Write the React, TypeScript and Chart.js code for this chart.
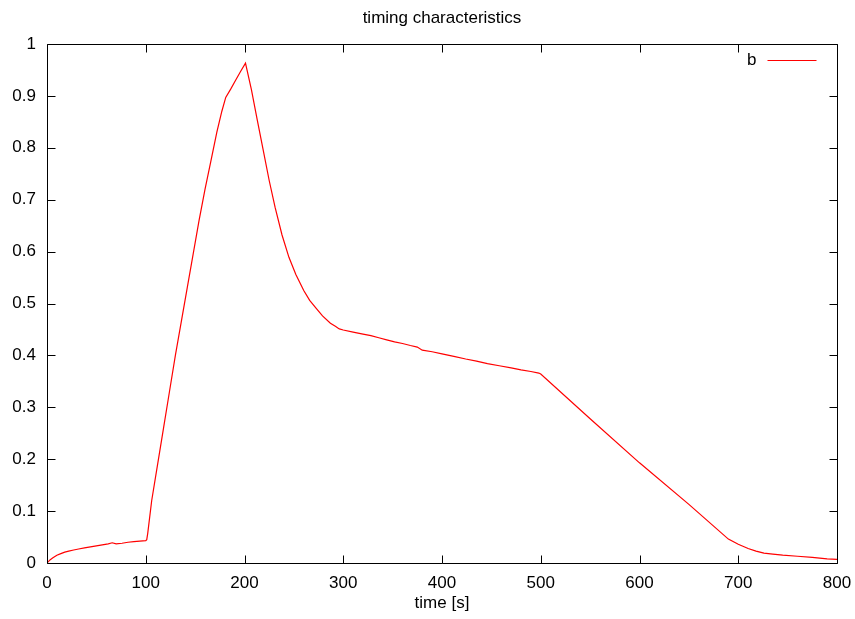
import React, { useEffect, useRef } from "react";
import { Chart, registerables } from "chart.js";

Chart.register(...registerables);

const chartTitle = "timing characteristics";
const xAxisTitle = "time [s]";
const seriesLabel = "b";

const timeValues = [
  0, 3, 6, 10, 14, 18, 22, 27, 32, 38, 44, 50, 56, 62, 66, 70, 76, 82, 88, 94, 100,
  101, 102, 106, 112, 118, 124, 130, 136, 142, 148, 154, 160, 166, 172, 177, 181, 186,
  191, 196, 201, 207, 213, 219, 225, 231, 238, 245, 252, 260, 266, 272,
  279, 287, 292, 296, 300, 310, 320, 328, 336, 344, 352, 360, 368, 375, 380, 390,
  400, 412, 424, 435, 446, 458, 470, 480, 490, 498, 500, 550, 600, 650, 690, 700, 710,
  718, 726, 735, 745, 760, 775, 790, 800,
];

const bValues = [
  0, 0.006, 0.01, 0.015, 0.018, 0.021, 0.023, 0.025, 0.027, 0.029, 0.031, 0.033, 0.035,
  0.037, 0.039, 0.037, 0.038, 0.04, 0.041, 0.042, 0.043,
  0.045, 0.057, 0.12, 0.19, 0.26, 0.33, 0.4, 0.465, 0.53, 0.595, 0.66, 0.72, 0.775,
  0.83, 0.87, 0.897, 0.913,
  0.93, 0.947, 0.963, 0.912, 0.853, 0.795, 0.737, 0.685, 0.632, 0.589, 0.556, 0.525, 0.506, 0.492,
  0.476, 0.462, 0.456, 0.451, 0.449, 0.445, 0.441, 0.438, 0.434, 0.43, 0.426,
  0.423, 0.419, 0.416, 0.41, 0.407,
  0.403, 0.398, 0.393, 0.389, 0.384, 0.38, 0.376, 0.372, 0.369, 0.366, 0.364, 0.278,
  0.193, 0.113, 0.046, 0.036, 0.028,
  0.023, 0.019, 0.017, 0.015, 0.013, 0.011, 0.008, 0.007,
];

const xMin = 0;
const xMax = 800;
const xStep = 100;
const yMin = 0;
const yMax = 1;
const yStep = 0.1;

const FONT = "'Liberation Sans', Arial, Helvetica, sans-serif";
const FONT_SIZE = 17;
const TICK_LEN = 8;

const framePlugin = {
  id: "gnuplotFrame",
  afterDraw(chart: any) {
    const ctx = chart.ctx;
    const { left, right, top, bottom } = chart.chartArea;
    const l = Math.round(left) + 0.5;
    const r = Math.round(right) + 0.5;
    const t = Math.round(top) + 0.5;
    const b = Math.round(bottom) + 0.5;
    ctx.save();
    ctx.strokeStyle = "#000";
    ctx.lineWidth = 1;
    ctx.beginPath();
    ctx.rect(l, t, r - l, b - t);
    ctx.stroke();
    ctx.beginPath();
    const xs = chart.scales.x;
    xs.ticks.forEach((tk: any) => {
      const px = Math.round(xs.getPixelForValue(tk.value)) + 0.5;
      ctx.moveTo(px, b);
      ctx.lineTo(px, b - TICK_LEN);
      ctx.moveTo(px, t);
      ctx.lineTo(px, t + TICK_LEN);
    });
    const ys = chart.scales.y;
    ys.ticks.forEach((tk: any) => {
      const py = Math.round(ys.getPixelForValue(tk.value)) + 0.5;
      ctx.moveTo(l, py);
      ctx.lineTo(l + TICK_LEN, py);
      ctx.moveTo(r, py);
      ctx.lineTo(r - TICK_LEN, py);
    });
    ctx.stroke();

    // legend inside top-right
    const ds = chart.data.datasets[0];
    const ly = 60.5;
    const lineEnd = r - 21;
    const lineStart = lineEnd - 49;
    ctx.font = `${FONT_SIZE}px ${FONT}`;
    ctx.fillStyle = "#000";
    ctx.textAlign = "right";
    ctx.textBaseline = "middle";
    ctx.fillText(ds.label, lineStart - 11, ly);
    ctx.strokeStyle = ds.borderColor;
    ctx.beginPath();
    ctx.moveTo(lineStart, ly);
    ctx.lineTo(lineEnd, ly);
    ctx.stroke();
    ctx.restore();
  },
};

export default function App() {
  const canvasRef = useRef<HTMLCanvasElement | null>(null);

  useEffect(() => {
    if (!canvasRef.current) return;
    const points = timeValues.map((t, i) => ({ x: t, y: bValues[i] }));
    const chart = new Chart(canvasRef.current, {
      type: "line",
      data: {
        datasets: [
          {
            label: seriesLabel,
            data: points,
            borderColor: "#ff0000",
            borderWidth: 1.2,
            pointRadius: 0,
            tension: 0,
            fill: false,
          },
        ],
      },
      options: {
        responsive: false,
        animation: false,
        layout: { padding: { left: 0, right: 18, top: 0, bottom: 0 } },
        plugins: {
          legend: { display: false },
          tooltip: { enabled: false },
          title: {
            display: true,
            text: chartTitle,
            fullSize: false,
            color: "#000",
            font: { family: FONT, size: FONT_SIZE, weight: "normal" },
            padding: { top: 8, bottom: 15.6 },
          },
        },
        scales: {
          x: {
            type: "linear",
            min: xMin,
            max: xMax,
            grid: { display: false, drawTicks: false },
            border: { display: false },
            ticks: {
              stepSize: xStep,
              color: "#000",
              padding: 10,
              maxRotation: 0,
              font: { family: FONT, size: FONT_SIZE },
            },
            title: {
              display: true,
              text: xAxisTitle,
              color: "#000",
              font: { family: FONT, size: FONT_SIZE },
              padding: { top: 0, bottom: 5.8 },
            },
            afterFit: (scale: any) => {
              scale.height = 56;
              scale.paddingLeft = 0;
              scale.paddingRight = 0;
            },
          },
          y: {
            type: "linear",
            min: yMin,
            max: yMax,
            grid: { display: false, drawTicks: false },
            border: { display: false },
            ticks: {
              stepSize: yStep,
              color: "#000",
              padding: 11,
              font: { family: FONT, size: FONT_SIZE },
              callback: (v: any) => String(Number(Number(v).toFixed(1))),
            },
            afterFit: (scale: any) => {
              scale.width = 47;
              scale.paddingTop = 0;
              scale.paddingBottom = 0;
            },
          },
        },
      },
      plugins: [framePlugin],
    });
    return () => chart.destroy();
  }, []);

  return (
    <div style={{ position: "absolute", left: 0, top: 0, width: 855, height: 619, background: "#fff" }}>
      <canvas ref={canvasRef} width={855} height={619} style={{ display: "block" }} />
    </div>
  );
}
